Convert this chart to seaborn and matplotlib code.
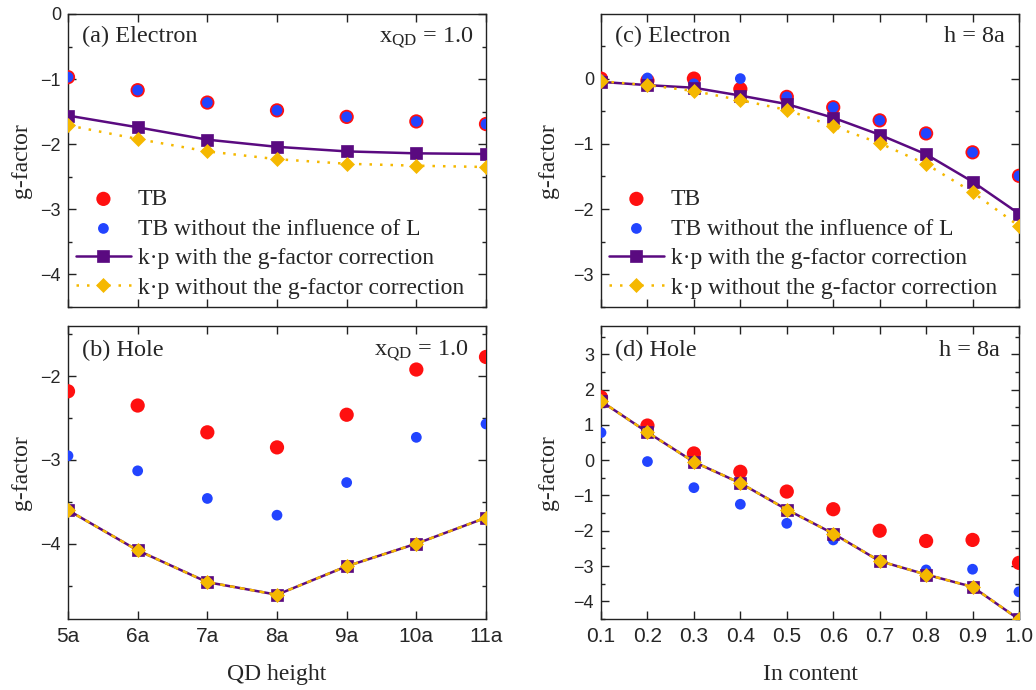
import numpy as np
import pandas as pd
import matplotlib
matplotlib.use("Agg")
import matplotlib.pyplot as plt
import seaborn as sns
from matplotlib.ticker import MultipleLocator, FixedLocator

# ---- data -------------------------------------------------------------
heights = [5, 6, 7, 8, 9, 10, 11]
height_labels = ["5a", "6a", "7a", "8a", "9a", "10a", "11a"]

a_tb = [-0.97, -1.17, -1.36, -1.48, -1.58, -1.65, -1.69]
a_tb_noL = [-0.97, -1.17, -1.36, -1.48, -1.58, -1.65, -1.69]
a_kp_corr = [-1.56, -1.74, -1.93, -2.04, -2.11, -2.14, -2.15]
a_kp = [-1.71, -1.92, -2.11, -2.23, -2.30, -2.33, -2.35]

b_tb = [-2.18, -2.35, -2.67, -2.85, -2.46, -1.92, -1.77]
b_tb_noL = [-2.95, -3.13, -3.46, -3.66, -3.27, -2.73, -2.57]
b_kp_corr = [-3.60, -4.08, -4.46, -4.61, -4.27, -4.00, -3.69]
b_kp = [-3.60, -4.08, -4.46, -4.61, -4.27, -4.00, -3.69]

in_content = [0.1, 0.2, 0.3, 0.4, 0.5, 0.6, 0.7, 0.8, 0.9, 1.0]
content_labels = ["0.1", "0.2", "0.3", "0.4", "0.5", "0.6", "0.7", "0.8", "0.9", "1.0"]

c_tb = [0.00, -0.03, 0.00, -0.16, -0.28, -0.44, -0.64, -0.84, -1.13, -1.49]
c_tb_noL = [-0.02, 0.01, -0.08, 0.00, -0.28, -0.44, -0.64, -0.84, -1.13, -1.49]
c_kp_corr = [-0.05, -0.10, -0.14, -0.26, -0.39, -0.60, -0.86, -1.16, -1.58, -2.07]
c_kp = [-0.04, -0.10, -0.19, -0.33, -0.48, -0.73, -0.99, -1.31, -1.74, -2.26]

d_tb = [1.78, 0.98, 0.19, -0.33, -0.89, -1.39, -2.00, -2.29, -2.26, -2.91]
d_tb_noL = [0.78, -0.04, -0.78, -1.25, -1.79, -2.26, -2.86, -3.11, -3.09, -3.73]
d_kp_corr = [1.67, 0.79, -0.05, -0.65, -1.40, -2.08, -2.86, -3.24, -3.59, -4.51]
d_kp = [1.67, 0.79, -0.05, -0.65, -1.40, -2.08, -2.86, -3.24, -3.59, -4.51]

series_labels = [
    "TB",
    "TB without the influence of L",
    "k\u00b7p with the g-factor correction",
    "k\u00b7p without the g-factor correction",
]

# ---- style ------------------------------------------------------------
sns.set_style("ticks", {"xtick.direction": "in", "ytick.direction": "in"})
plt.rcParams["font.family"] = ["Liberation Serif", "DejaVu Serif"]
plt.rcParams["mathtext.fontset"] = "custom"
plt.rcParams["mathtext.rm"] = "Liberation Serif"
plt.rcParams["mathtext.it"] = "Liberation Serif:italic"
plt.rcParams["axes.edgecolor"] = "#222222"
plt.rcParams["axes.linewidth"] = 1.0

RED = "#ff1010"
BLUE = "#2244ff"
PURPLE = "#5a0a80"
GOLD = "#f5b800"
LEGEND_SIZE = 17
SANS = "Liberation Sans"

fig = plt.figure(figsize=(10.36, 6.90), dpi=100)
W, H = 1036, 690


def rect(l, t, r, b):
    return [l / W, 1 - b / H, (r - l) / W, (b - t) / H]


ax_a = fig.add_axes(rect(68, 14, 486, 307))
ax_b = fig.add_axes(rect(68, 326, 486, 619))
ax_c = fig.add_axes(rect(601, 14, 1019, 307))
ax_d = fig.add_axes(rect(601, 326, 1019, 619))


def draw(ax, x, tb, tb_noL, kp_corr, kp, kp_dash, legend):
    sns.scatterplot(x=x, y=tb, ax=ax, color=RED, s=105, edgecolor="none",
                    label=series_labels[0], zorder=3)
    sns.scatterplot(x=x, y=tb_noL, ax=ax, color=BLUE, s=60, edgecolor="none",
                    label=series_labels[1], zorder=4)
    sns.lineplot(x=x, y=kp_corr, ax=ax, color=PURPLE, lw=1.8, marker="s",
                 markersize=8.5, markeredgecolor=PURPLE, markeredgewidth=0.5,
                 label=series_labels[2], zorder=5)
    sns.lineplot(x=x, y=kp, ax=ax, color=GOLD, lw=1.8, linestyle=kp_dash,
                 marker="D", markersize=7.5, markeredgecolor=GOLD,
                 markeredgewidth=0.5, label=series_labels[3], zorder=6)
    if legend:
        ax.legend(loc="lower left", frameon=False, fontsize=LEGEND_SIZE,
                  borderaxespad=0.1, borderpad=0.25, handlelength=2.3,
                  handletextpad=0.3, labelspacing=0.34)
    else:
        lg = ax.get_legend()
        if lg is not None:
            lg.remove()


draw(ax_a, heights, a_tb, a_tb_noL, a_kp_corr, a_kp, (0, (1, 3.2)), True)
draw(ax_b, heights, b_tb, b_tb_noL, b_kp_corr, b_kp, (0, (2, 2)), False)
draw(ax_c, in_content, c_tb, c_tb_noL, c_kp_corr, c_kp, (0, (1, 3.2)), True)
draw(ax_d, in_content, d_tb, d_tb_noL, d_kp_corr, d_kp, (0, (2, 2)), False)

# ---- axes -------------------------------------------------------------
for ax in (ax_a, ax_b):
    ax.set_xlim(5, 11)
    ax.xaxis.set_major_locator(FixedLocator(heights))
for ax in (ax_c, ax_d):
    ax.set_xlim(0.1, 1.0)
    ax.xaxis.set_major_locator(FixedLocator(in_content))

ax_a.set_ylim(-4.5, 0)
ax_a.yaxis.set_major_locator(FixedLocator([-4, -3, -2, -1, 0]))
ax_b.set_ylim(-4.9, -1.4)
ax_b.yaxis.set_major_locator(FixedLocator([-4, -3, -2]))
ax_c.set_ylim(-3.5, 0.99)
ax_c.yaxis.set_major_locator(FixedLocator([-3, -2, -1, 0]))
ax_d.set_ylim(-4.5, 3.8)
ax_d.yaxis.set_major_locator(FixedLocator([-4, -3, -2, -1, 0, 1, 2, 3]))

for ax in (ax_a, ax_b, ax_c, ax_d):
    ax.yaxis.set_minor_locator(MultipleLocator(0.5))
    ax.tick_params(which="both", direction="in", top=True, right=True,
                   color="#222222", width=1.0)
    ax.tick_params(which="major", length=5.5)
    ax.tick_params(which="minor", length=3)
    ax.tick_params(axis="y", labelsize=13, labelfontfamily=SANS, pad=5)
    ax.tick_params(axis="x", labelsize=15, labelfontfamily=SANS, pad=6)
    ax.set_ylabel("g-factor", fontsize=17)
    ax.set_xlabel("")

ax_a.tick_params(axis="x", labelbottom=False)
ax_c.tick_params(axis="x", labelbottom=False)
ax_b.set_xticklabels(height_labels)
ax_d.set_xticklabels(content_labels)

ax_b.set_xlabel("QD height", fontsize=17)
ax_d.set_xlabel("In content", fontsize=17)
ax_b.xaxis.set_label_coords(0.5, -0.155)
ax_d.xaxis.set_label_coords(0.5, -0.155)

ax_a.yaxis.set_label_coords(-0.085, 0.5)
ax_b.yaxis.set_label_coords(-0.085, 0.5)
ax_c.yaxis.set_label_coords(-0.100, 0.5)
ax_d.yaxis.set_label_coords(-0.100, 0.5)

# ---- panel annotations -----------------------------------------------
xqd = r"$\mathrm{x_{QD}}$ = 1.0"
notes = [
    (ax_a, "(a) Electron", xqd, 0.903, 0.969),
    (ax_b, "(b) Hole", xqd, 0.899, 0.957),
    (ax_c, "(c) Electron", "h = 8a", 0.903, 0.967),
    (ax_d, "(d) Hole", "h = 8a", 0.899, 0.955),
]
for ax, left, right, yb, xr in notes:
    ax.text(0.033, yb, left, transform=ax.transAxes, fontsize=17.5,
            ha="left", va="baseline")
    ax.text(xr, yb, right, transform=ax.transAxes, fontsize=17.5,
            ha="right", va="baseline")

fig.savefig("out.png", dpi=100)
